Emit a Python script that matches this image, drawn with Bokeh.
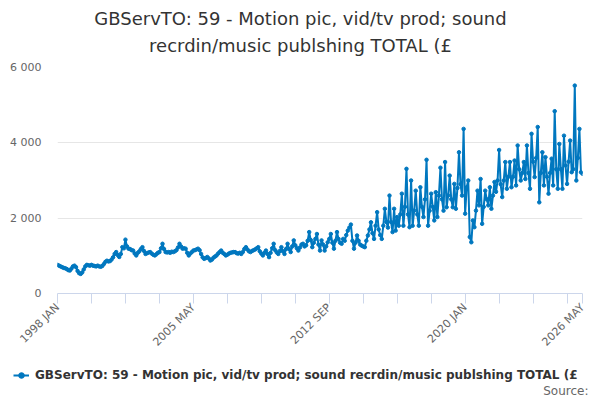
import math
from bokeh.plotting import figure
from bokeh.layouts import column
from bokeh.models import (ColumnDataSource, FixedTicker, Legend, LegendItem, Range1d, Label)
from bokeh.embed import file_html
from bokeh.resources import INLINE

title_line1 = "GBServTO: 59 - Motion pic, vid/tv prod; sound"
title_line2 = "recrdin/music publshing TOTAL (£"
series_name = "GBServTO: 59 - Motion pic, vid/tv prod; sound recrdin/music publshing TOTAL (£"
source_text = "Source:"

# monthly values, 1998 JAN .. 2026 MAY
v1998 = [760, 740, 720, 700, 680, 670, 650, 620, 610, 660, 720, 740]
v1999 = [700, 600, 540, 520, 560, 640, 720, 760, 750, 740, 760, 740]
v2000 = [730, 720, 740, 720, 710, 730, 780, 840, 870, 850, 860, 900]
v2001 = [960, 1050, 1100, 1020, 970, 1050, 1230, 1200, 1430, 1250, 1190, 1180]
v2002 = [1150, 1140, 1060, 1010, 1080, 1120, 1180, 1230, 1130, 1050, 1070, 1090]
v2003 = [1100, 1060, 1030, 1010, 1040, 1080, 1100, 1200, 1320, 1180, 1100, 1090]
v2004 = [1100, 1080, 1110, 1100, 1120, 1150, 1220, 1320, 1250, 1190, 1200, 1190]
v2005 = [1080, 1010, 1060, 1100, 1140, 1150, 1170, 1190, 1150, 1050, 960, 920]
v2006 = [940, 970, 930, 875, 900, 950, 980, 1010, 1060, 1100, 1140, 1080]
v2007 = [1050, 1010, 1030, 1060, 1080, 1090, 1100, 1100, 1070, 1060, 1080, 1050]
v2008 = [1100, 1180, 1230, 1170, 1120, 1100, 1130, 1150, 1170, 1200, 1230, 1120]
v2009 = [1060, 1010, 1080, 1140, 1050, 965, 1080, 1200, 1320, 1150, 1090, 1050]
v2010 = [1130, 1230, 1120, 1050, 1180, 1320, 1180, 1100, 1250, 1410, 1280, 1200]
v2011 = [1140, 1220, 1300, 1320, 1250, 1280, 1400, 1630, 1420, 1230, 1350, 1450]
v2012 = [1580, 1300, 1140, 1410, 1300, 1140, 1250, 1360, 1450, 1580, 1350, 1190]
v2013 = [1400, 1630, 1450, 1350, 1320, 1450, 1400, 1550, 1670, 1750, 1830, 1400]
v2014 = [1190, 1350, 1540, 1400, 1300, 1270, 1250, 1230, 1400, 1540, 1700, 1890]
v2015 = [1600, 1450, 1800, 2160, 1700, 1550, 1450, 1800, 2250, 1900, 1750, 2600]
v2016 = [1900, 1630, 2250, 1670, 2030, 1800, 2100, 2650, 1800, 2300, 3310, 2100]
v2017 = [1760, 3000, 1800, 2200, 2730, 2100, 1800, 2820, 2300, 2030, 2500, 3550]
v2018 = [1800, 2200, 2650, 2300, 1940, 2690, 2030, 2600, 3340, 2500, 2200, 3490]
v2019 = [2290, 2600, 3130, 2500, 2290, 2910, 2250, 2800, 3750, 2900, 2600, 4370]
v2020 = [2120, 2820, 3000, 1500, 1360, 1940, 1760, 2200, 2730, 2340, 3040, 1850]
v2021 = [2300, 2730, 2500, 2340, 2820, 2250, 2600, 2960, 2700, 3000, 3810, 2900]
v2022 = [2560, 3000, 3490, 2780, 3100, 3490, 2820, 3100, 3530, 2870, 3930, 3300]
v2023 = [3000, 3200, 3490, 3040, 3930, 3200, 2780, 4240, 3500, 3090, 3600, 4420]
v2024 = [2420, 3200, 3750, 2870, 3620, 3100, 2650, 3200, 3580, 2870, 4840, 3300]
v2025 = [2780, 3970, 3300, 2780, 4190, 3400, 2910, 3500, 4060, 3220, 3300, 5520]
v2026 = [3000, 3600, 4370, 3220, 3180]

values = (v1998 + v1999 + v2000 + v2001 + v2002 + v2003 + v2004 + v2005 + v2006 +
          v2007 + v2008 + v2009 + v2010 + v2011 + v2012 + v2013 + v2014 + v2015 +
          v2016 + v2017 + v2018 + v2019 + v2020 + v2021 + v2022 + v2023 + v2024 +
          v2025 + v2026)
months = list(range(len(values)))

x_tick_months = [0, 22, 44, 66, 88, 110, 132, 154, 176, 198, 220, 242, 264, 286, 308, 330, 340]
x_tick_labels = {0: "1998 JAN", 88: "2005 MAY", 176: "2012 SEP", 264: "2020 JAN", 340: "2026 MAY"}
y_ticks = [0, 2000, 4000, 6000]
y_tick_labels = ["0", "2 000", "4 000", "6 000"]

FONT = "DejaVu Sans"
COLOR = "#0077bf"
W = 600
FL = 57   # frame left of the main chart


def strip(h):
    f = figure(width=W, height=h, output_backend="svg", toolbar_location=None,
               x_range=Range1d(-2, -1), y_range=Range1d(-2, -1),
               x_axis_location=None, y_axis_location=None,
               min_border_left=0, min_border_right=0, min_border_top=0, min_border_bottom=0)
    f.grid.visible = False
    f.outline_line_color = None
    f.frame_align = False
    return f


# title strip
TH = 58
top = strip(TH)
for txt, yc in ((title_line1, TH - 18), (title_line2, TH - 45)):
    top.add_layout(Label(x=W / 2, y=yc, x_units="screen", y_units="screen", text=txt,
                         text_align="center", text_baseline="middle", text_font=FONT,
                         text_font_size="18px", text_color="#333333"))

# main chart
MH = 302
p = figure(width=W, height=MH, output_backend="svg", toolbar_location=None,
           x_range=Range1d(0, len(values) - 1), y_range=Range1d(0, 6000),
           min_border_left=FL, min_border_right=18, min_border_top=67 - TH,
           min_border_bottom=MH - (293 - TH))
p.outline_line_color = None
p.frame_align = False

src = ColumnDataSource(dict(x=months, y=values))
lr = p.line("x", "y", source=src, line_color=COLOR, line_width=2)
cr = p.scatter("x", "y", source=src, size=3.5, fill_color=COLOR, line_color=COLOR)

xa = p.xaxis[0]
xa.ticker = FixedTicker(ticks=x_tick_months)
xa.major_label_overrides = {m: x_tick_labels.get(m, "") for m in x_tick_months}
xa.major_label_orientation = math.pi / 4
xa.axis_line_color = "#ccd6eb"
xa.major_tick_line_color = "#ccd6eb"
xa.major_tick_in = 0
xa.major_tick_out = 10
xa.minor_tick_line_color = None
xa.major_label_text_font = FONT
xa.major_label_text_font_size = "11px"
xa.major_label_text_color = "#666666"
xa.major_label_standoff = 2

ya = p.yaxis[0]
ya.ticker = FixedTicker(ticks=y_ticks)
ya.major_label_overrides = {t: l for t, l in zip(y_ticks, y_tick_labels)}
ya.axis_line_color = None
ya.major_tick_line_color = None
ya.minor_tick_line_color = None
ya.major_label_text_font = FONT
ya.major_label_text_font_size = "11px"
ya.major_label_text_color = "#666666"
ya.major_label_standoff = 10

p.xgrid.grid_line_color = None
p.ygrid.grid_line_color = "#e6e6e6"
p.ygrid.ticker = FixedTicker(ticks=y_ticks)

# legend strip (its renderers share the series data but fall outside the strip's ranges)
LH = 400 - TH - MH
lg = strip(LH)
llr = lg.line("x", "y", source=src, line_color=COLOR, line_width=2)
lcr = lg.scatter("x", "y", source=src, size=5, fill_color=COLOR, line_color=COLOR)
legend = Legend(items=[LegendItem(label=series_name, renderers=[llr, lcr])],
                location=(13, LH - (375 - TH - MH) - 7), orientation="horizontal",
                label_text_font=FONT, label_text_font_size="12px",
                label_text_font_style="bold", label_text_color="#333333",
                border_line_alpha=0, background_fill_alpha=0,
                glyph_width=16, glyph_height=14, padding=0, margin=0,
                label_standoff=6, label_height=14)
lg.add_layout(legend, "center")
lg.add_layout(Label(x=588, y=LH - (390 - TH - MH), x_units="screen", y_units="screen",
                    text=source_text, text_align="right", text_baseline="middle",
                    text_font=FONT, text_font_size="12px", text_color="#666666"))

layout = column(top, p, lg, spacing=0)
open("out.html", "w").write(file_html(layout, INLINE))
